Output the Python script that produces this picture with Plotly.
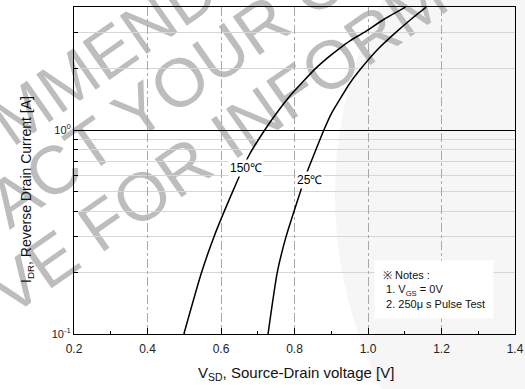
import plotly.graph_objects as go

# 150 °C curve: reverse drain current [A] vs source-drain voltage [V]
i_150 = [0.1, 0.2, 0.3, 0.5, 0.75, 1.0, 1.25, 1.5, 1.75, 2.0, 2.25, 2.5, 2.75, 3.0, 3.5, 4.0]
v_150 = [0.499, 0.547, 0.581, 0.632, 0.676, 0.719, 0.757, 0.792, 0.826, 0.857, 0.889, 0.921,
         0.953, 0.988, 1.045, 1.102]

# 25 °C curve
i_25 = [0.1, 0.2, 0.3, 0.45, 0.6, 0.75, 1.0, 1.2, 1.4, 1.7, 2.0, 2.5, 3.0, 3.5, 4.0]
v_25 = [0.728, 0.753, 0.777, 0.808, 0.831, 0.852, 0.880, 0.900, 0.922, 0.951, 0.981, 1.028,
        1.075, 1.118, 1.158]

x_ticks = [0.2, 0.4, 0.6, 0.8, 1.0, 1.2, 1.4]
x_ticktext = ["0.2", "0.4", "0.6", "0.8", "1.0", "1.2", "1.4"]
y_ticks = [0.1, 1]
y_ticktext = ["10<sup>-1</sup>", "10<sup>0</sup>"]
y_minor = [0.2, 0.3, 0.4, 0.5, 0.6, 0.7, 0.8, 0.9, 2, 3]

watermark = ["MMEND", "ACT YOUR C", "VE FOR INFORM"]

FONT = "Arial, Liberation Sans, sans-serif"

W, H = 525, 389
L, R, T, B = 74, 10, 7, 55
PL, PR, PT, PB = L, W - R, T, H - B   # plot edges in window pixels


def px(sx):
    return (sx - PL) / (PR - PL)


def py(sy):
    return (PB - sy) / (PB - PT)


fig = go.Figure()
fig.add_trace(go.Scatter(x=v_150, y=i_150, mode="lines", name="150℃",
                         line=dict(color="black", width=1.5, shape="spline", smoothing=0.6)))
fig.add_trace(go.Scatter(x=v_25, y=i_25, mode="lines", name="25℃",
                         line=dict(color="black", width=1.5, shape="spline", smoothing=0.6)))

fig.update_xaxes(
    range=[0.2, 1.4], tickmode="array", tickvals=x_ticks, ticktext=x_ticktext,
    ticks="inside", ticklen=6, tickcolor="black", tickwidth=1,
    showline=True, mirror=True, linecolor="black", linewidth=1,
    showgrid=True, gridcolor="#a8a8a8", griddash="dashdot", gridwidth=1,
    zeroline=False, automargin=False, ticklabelstandoff=4,
    minor=dict(dtick=0.1, ticks="inside", ticklen=3, tickcolor="black", showgrid=False),
    tickfont=dict(family=FONT, size=12, color="#222"),
)
fig.update_yaxes(
    type="log", range=[-1, -1 + (PB - PT) / 204.0], tickmode="array",
    tickvals=y_ticks, ticktext=y_ticktext,
    ticks="inside", ticklen=5, tickcolor="black",
    showline=True, mirror=True, linecolor="black", linewidth=1,
    showgrid=True, gridcolor="black", gridwidth=1, zeroline=False, automargin=False,
    minor=dict(tickmode="array", tickvals=y_minor, ticks="inside", ticklen=4, tickcolor="black",
               showgrid=True, gridcolor="#d6d6d6", gridwidth=1),
    tickfont=dict(family=FONT, size=11, color="#222"),
)

# axis titles
fig.add_annotation(xref="paper", yref="paper", x=px(296), y=py(385), showarrow=False,
                   text="V<sub>SD</sub>, Source-Drain voltage [V]",
                   font=dict(family=FONT, size=15, color="#111"))
fig.add_annotation(xref="paper", yref="paper", x=px(16), y=py(190), showarrow=False, textangle=-90,
                   text="I<sub>DR</sub>, Reverse Drain Current [A]",
                   font=dict(family=FONT, size=14, color="#111"))

# curve labels and notes
fig.add_annotation(x=0.668, y=-0.186, text="150℃", showarrow=False, bgcolor="white",
                   font=dict(family=FONT, size=12, color="black"), borderpad=1)
fig.add_annotation(x=0.842, y=-0.245, text="25℃", showarrow=False, bgcolor="white",
                   font=dict(family=FONT, size=12, color="black"), borderpad=1)
fig.add_annotation(x=1.18, y=-0.78, showarrow=False, bgcolor="white", align="left",
                   text="※ Notes :<br>\u00a01. V<sub>GS</sub> = 0V<br>\u00a02. 250μ s Pulse Test",
                   font=dict(family=FONT, size=11, color="#111"), borderpad=8)

# faint background disc of the watermark logo (right side)
fig.add_shape(type="circle", xref="paper", yref="paper", layer="below",
              x0=px(335), x1=px(1185), y0=py(620), y1=py(-230),
              line=dict(width=0), fillcolor="#f6f6f6")

# watermark text (drawn below the data)
wm_pos = [(100, 50), (163, 86), (214, 138)]
for txt, (cx, cy) in zip(watermark, wm_pos):
    fig.add_shape(type="rect", xref="paper", yref="paper", layer="below",
                  x0=px(cx) - 0.001, x1=px(cx) + 0.001, y0=py(cy) - 0.001, y1=py(cy) + 0.001,
                  line=dict(width=0), fillcolor="rgba(0,0,0,0)",
                  label=dict(text=txt, textangle=-35, textposition="middle center",
                             font=dict(family=FONT, size=68, color="#bdbdbd")))

fig.update_layout(
    width=W, height=H, margin=dict(l=L, r=R, t=T, b=B),
    paper_bgcolor="white", plot_bgcolor="rgba(0,0,0,0)", showlegend=False,
)

fig.write_html("out.html", config={"displayModeBar": False},
               post_script="document.body.style.margin='0';document.body.style.overflow='hidden';")
